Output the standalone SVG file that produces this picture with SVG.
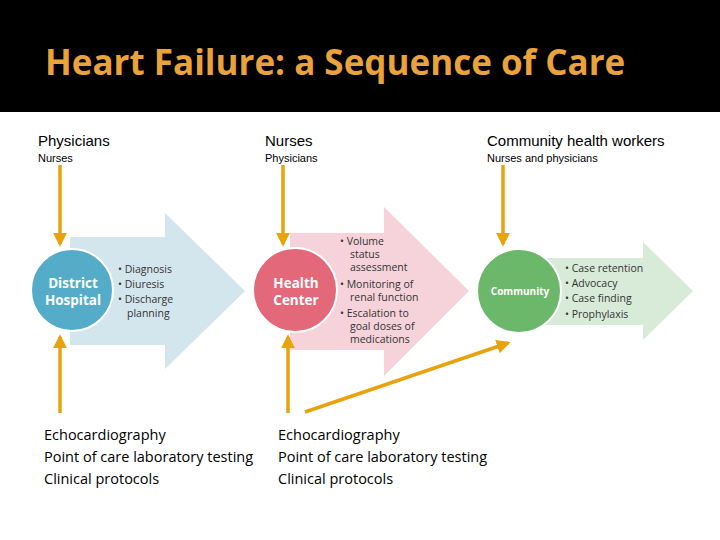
<svg xmlns="http://www.w3.org/2000/svg" width="720" height="540" viewBox="0 0 720 540">
<defs>
<marker id="ah" viewBox="0 0 10 10" refX="8" refY="5" markerWidth="4" markerHeight="4" orient="auto"><path d="M0,0 L10,5 L0,10 z" fill="#e8a20c"/></marker>
<style>
.t{font-family:"Liberation Sans",Arial,sans-serif;fill:#000}
.h{font-size:15px}.s{font-size:11px}
.l{font-family:"Open Sans",sans-serif;font-size:14.5px;fill:#000}
.b{font-family:"Open Sans",sans-serif;font-size:10.5px;fill:#333}
.c{font-family:"Open Sans",sans-serif;font-weight:bold;fill:#fff;text-anchor:middle}
.con{stroke:#e8a20c;stroke-width:3.5;fill:none;marker-end:url(#ah)}
</style>
</defs>
<rect width="720" height="540" fill="#fff"/>
<rect width="720" height="112" fill="#000"/>
<text x="45" y="75" font-family="Open Sans,sans-serif" font-weight="bold" font-size="35" fill="#eaa23a">Heart Failure: a Sequence of Care</text>
<g id="labels-top">
<text class="t h" x="38" y="146">Physicians</text><text class="t s" x="38" y="162">Nurses</text>
<text class="t h" x="265" y="146">Nurses</text><text class="t s" x="265" y="162">Physicians</text>
<text class="t h" x="487" y="146">Community health workers</text><text class="t s" x="487" y="162">Nurses and physicians</text>
</g>
<g id="district">
<path d="M70,237 H165 V213 L245,291 L165,369 V345 H70 z" fill="#d3e6ed"/>
<circle cx="72" cy="290" r="41" fill="#55acc8" stroke="#fff" stroke-width="2"/>
<text class="c" x="73" y="288" font-size="13.5">District</text><text class="c" x="73" y="305" font-size="13.5">Hospital</text>
<text class="b" x="118" y="273">• Diagnosis</text><text class="b" x="118" y="288">• Diuresis</text><text class="b" x="118" y="303">• Discharge</text><text class="b" x="127" y="317">planning</text>
</g>
<g id="health">
<path d="M290,233 H384 V207 L469,291 L384,376 V350 H290 z" fill="#f6d3da"/>
<circle cx="295" cy="290" r="42" fill="#e3687a" stroke="#fff" stroke-width="2"/>
<text class="c" x="296" y="288" font-size="13.5">Health</text><text class="c" x="296" y="305" font-size="13.5">Center</text>
<text class="b" x="340" y="245">• Volume</text><text class="b" x="350" y="258">status</text><text class="b" x="350" y="271">assessment</text>
<text class="b" x="340" y="288">• Monitoring of</text><text class="b" x="350" y="301">renal function</text>
<text class="b" x="340" y="317">• Escalation to</text><text class="b" x="350" y="330">goal doses of</text><text class="b" x="350" y="343">medications</text>
</g>
<g id="community">
<path d="M545,258 H643 V242 L693,291 L643,340 V325 H545 z" fill="#d8ebd8"/>
<circle cx="519" cy="291" r="42" fill="#6cb86a" stroke="#fff" stroke-width="2"/>
<text class="c" x="520" y="295" font-size="10">Community</text>
<text class="b" x="565" y="272">• Case retention</text><text class="b" x="565" y="287">• Advocacy</text><text class="b" x="565" y="302">• Case finding</text><text class="b" x="565" y="318">• Prophylaxis</text>
</g>
<g id="connectors">
<line class="con" x1="60" y1="165" x2="60" y2="244"/>
<line class="con" x1="283" y1="165" x2="283" y2="244"/>
<line class="con" x1="503" y1="165" x2="503" y2="244"/>
<line class="con" x1="60" y1="413" x2="60" y2="337"/>
<line class="con" x1="288" y1="413" x2="288" y2="337"/>
<line class="con" x1="305" y1="412" x2="508" y2="343"/>
</g>
<g id="labels-bottom">
<text class="l" x="44" y="440">Echocardiography</text><text class="l" x="44" y="462">Point of care laboratory testing</text><text class="l" x="44" y="484">Clinical protocols</text>
<text class="l" x="278" y="440">Echocardiography</text><text class="l" x="278" y="462">Point of care laboratory testing</text><text class="l" x="278" y="484">Clinical protocols</text>
</g>
</svg>
